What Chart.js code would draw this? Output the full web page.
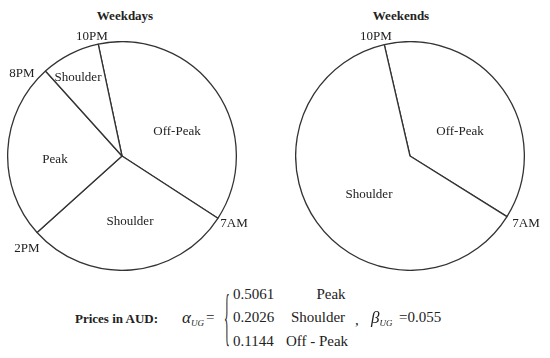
<!DOCTYPE html>
<html>
<head>
<meta charset="utf-8">
<script src="https://cdn.jsdelivr.net/npm/chart.js@4/dist/chart.umd.min.js"></script>
<style>
  body { margin: 0; background: #fff; }
  #wrap { position: relative; width: 550px; height: 358px; overflow: hidden; font-family: "Liberation Serif", "Times New Roman", serif; color: #222; }
  canvas { position: absolute; }
  .t { position: absolute; transform: translate(-50%, -50%); white-space: nowrap; font-size: 13px; line-height: 1; }
  .b { font-weight: bold; }
  .f { position: absolute; transform: translate(0, -50%); white-space: nowrap; font-size: 15px; line-height: 1; }
  sub { font-size: 9px; font-style: italic; vertical-align: -3px; }
</style>
</head>
<body>
<div id="wrap">
  <canvas id="weekdays" width="230" height="230" style="left:7px; top:41px;"></canvas>
  <canvas id="weekends" width="230" height="230" style="left:295px; top:41px;"></canvas>
</div>
<script>
// hours in each tariff block, clockwise starting at 10PM
const weekdayTiers = ["Off-Peak", "Shoulder", "Peak", "Shoulder"];
const weekdayHours = [9, 7, 6, 2];
const weekendTiers = ["Off-Peak", "Shoulder"];
const weekendHours = [9, 15];

const alphaValues = ["0.5061", "0.2026", "0.1144"];
const alphaTiers = ["Peak", "Shoulder", "Off - Peak"];
const betaValue = "0.055";

function makePie(id, labels, hours, rotation) {
  const ctx = document.getElementById(id).getContext("2d");
  return new Chart(ctx, {
    type: "pie",
    data: {
      labels: labels,
      datasets: [{
        data: hours,
        backgroundColor: "#ffffff",
        borderColor: "#333333",
        borderWidth: 1.3,
        borderAlign: "center",
      }],
    },
    options: {
      responsive: false,
      animation: false,
      events: [],
      rotation: rotation,
      plugins: {
        legend: { display: false },
        tooltip: { enabled: false },
      },
    },
  });
}

makePie("weekdays", weekdayTiers, weekdayHours, -12);
makePie("weekends", weekendTiers, weekendHours, -13);

// text labels
const wrap = document.getElementById("wrap");
function addText(txt, x, y, cls) {
  const el = document.createElement("div");
  el.className = cls || "t";
  el.style.left = x + "px";
  el.style.top = y + "px";
  el.innerHTML = txt;
  wrap.appendChild(el);
  return el;
}

addText("Weekdays", 125, 15, "t b");
addText("Weekends", 401, 15, "t b");

addText("10PM", 92, 35);
addText("8PM", 22, 72);
addText("2PM", 27, 247);
addText("7AM", 234, 222);
addText(weekdayTiers[3], 78, 76);
addText(weekdayTiers[0], 177, 130);
addText(weekdayTiers[2], 55, 158);
addText(weekdayTiers[1], 130, 220);

addText("10PM", 376, 35);
addText("7AM", 526, 222);
addText(weekendTiers[0], 460, 130);
addText(weekendTiers[1], 369, 193);

// price formula
addText("Prices in AUD:", 75, 318, "f b").style.fontSize = "13px";
addText("<i>&alpha;</i><sub>UG</sub>", 182, 318, "f").style.fontSize = "17px";
addText("=", 206, 317, "f");
const brace = addText("{", 223, 318, "f");
brace.style.fontSize = "16px";
brace.style.fontWeight = "200";
brace.style.transform = "translate(0,-50%) scale(0.75,4.0)";
const rowsY = [294, 317, 341];
const tierX = [331, 318, 317];
alphaValues.forEach((v, i) => addText(v, 233, rowsY[i], "f"));
alphaTiers.forEach((v, i) => addText(v, tierX[i], rowsY[i], "t").style.fontSize = "15px");
addText(",", 355, 320, "f");
addText("<i>&beta;</i><sub>UG</sub>", 371, 318, "f").style.fontSize = "17px";
addText("=" + betaValue, 399, 317, "f");
</script>
</body>
</html>
